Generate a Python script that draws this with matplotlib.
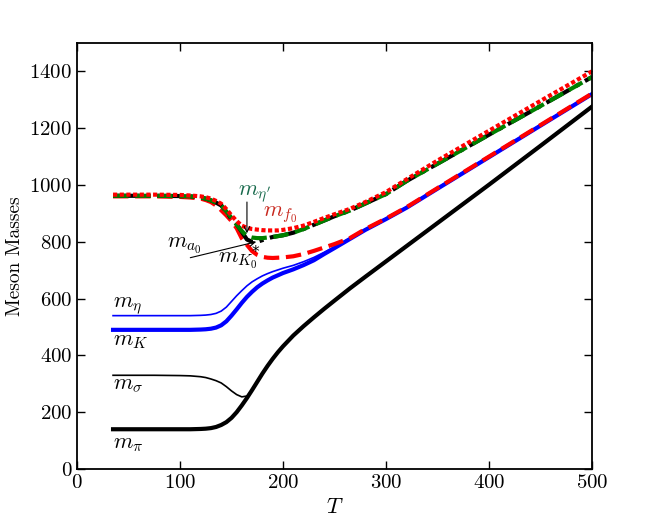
#!/usr/bin/env python3
# Meson masses vs temperature

import matplotlib
matplotlib.use('Agg')
import matplotlib.pyplot as plt

plt.rcParams['font.family'] = 'serif'
plt.rcParams['font.serif'] = ['cmr10', 'DejaVu Serif']
plt.rcParams['mathtext.fontset'] = 'cm'
plt.rcParams['axes.formatter.use_mathtext'] = True
plt.rcParams['axes.unicode_minus'] = False

# temperature grid (shared by all curves)
T = [35, 50, 75, 100, 110, 120, 125, 130, 135, 140, 145, 150, 155, 160, 165,
     170, 175, 180, 185, 190, 195, 200, 210, 220, 230, 240, 250, 265, 280,
     300, 320, 350, 400, 450, 500]

m_pi = [140, 140, 140, 140, 140, 141, 142, 144, 148, 155, 165, 180, 200, 224, 250,
        278, 307, 336, 363, 388, 411, 432, 470, 503, 534, 564, 593, 636, 677,
        731, 785, 866, 1001, 1138, 1276]
m_sigma = [330, 330, 330, 329, 328, 325, 322, 317, 311, 303, 290, 275, 262, 254, 257,
           279, 309, 338, 365, 390, 413, 434, 472, 505, 536, 566, 595, 638, 679,
           733, 787, 868, 1003, 1140, 1278]
m_K = [490, 490, 490, 490, 490, 491, 492, 494, 498, 506, 520, 540, 562, 585, 606,
       624, 640, 653, 664, 674, 682, 690, 703, 718, 735, 757, 778, 810, 842,
       880, 920, 987, 1098, 1209, 1320]
m_eta = [540, 540, 540, 540, 540, 541, 542, 544, 548, 556, 570, 590, 610, 628, 645,
         659, 670, 680, 688, 695, 701, 707, 717, 730, 745, 763, 782, 813, 845,
         883, 923, 990, 1101, 1212, 1323]
m_f0 = [966, 966, 966, 965, 963, 960, 957, 952, 944, 934, 915, 893, 873, 857, 849,
        845, 843, 841, 840, 840, 840, 842, 848, 857, 870, 884, 897, 916, 940,
        975, 1020, 1086, 1191, 1296, 1400]
m_etap = [962, 962, 962, 961, 960, 956, 952, 946, 938, 928, 907, 884, 860, 838, 820,
          815, 813, 813, 815, 817, 820, 823, 832, 845, 860, 875, 890, 910, 935,
          968, 1014, 1075, 1177, 1278, 1380]
m_a0 = [962, 962, 962, 961, 960, 956, 952, 946, 938, 928, 907, 880, 862, 835, 808,
        800, 800, 806, 812, 817, 820, 823, 832, 845, 860, 875, 890, 910, 935,
        968, 1014, 1075, 1177, 1278, 1380]
m_K0s = [960, 960, 960, 958, 956, 952, 947, 940, 928, 911, 893, 873, 848, 812, 789,
         767, 754, 747, 744, 743, 744, 745, 749, 757, 768, 780, 792, 813, 845,
         882, 922, 989, 1100, 1211, 1322]


def meson_plot():
    fig = plt.figure(figsize=(6.65, 5.32), dpi=100)
    ax = fig.add_axes([0.1158, 0.1184, 0.7744, 0.8008])

    ax.plot(T, m_pi, color='black', lw=3)
    ax.plot(T, m_sigma, color='black', lw=1.2)
    ax.plot(T, m_K, color='blue', lw=3)
    ax.plot(T, m_eta, color='blue', lw=1.2)
    ax.plot(T, m_K0s, color='red', lw=3, linestyle='--')
    ax.plot(T, m_a0, color='black', lw=3, linestyle='-.')
    ax.plot(T, m_etap, color='green', lw=3, linestyle='--')
    ax.plot(T, m_f0, color='red', lw=3, linestyle=(0, (1, 0.6)))

    fs = 16
    ax.text(35, 571, r'$m_\eta$', fontsize=fs)
    ax.text(35, 437, r'$m_K$', fontsize=fs)
    ax.text(35, 280, r'$m_\sigma$', fontsize=fs)
    ax.text(35, 74, r'$m_\pi$', fontsize=fs)
    ax.text(156, 966, r'$m_{\eta^\prime}$', fontsize=fs, color='#17694b')
    ax.text(180.6, 889, r'$m_{f_0}$', fontsize=fs, color='#c8281e')
    ax.text(87, 779, r'$m_{a_0}$', fontsize=fs)
    ax.text(137, 726, r'$m_{K_0}$', fontsize=fs)
    # the cm math fonts drop the asterisk, so it is set on its own
    ax.text(169.5, 762, '*', fontsize=11, family='DejaVu Sans',
            ha='left', va='center', zorder=5)

    arrow = dict(arrowstyle='->', color='black', lw=0.8, shrinkA=0, shrinkB=0)
    ax.annotate('', xy=(165, 830), xytext=(165, 940), arrowprops=arrow)
    ax.annotate('', xy=(174, 800), xytext=(110, 744), arrowprops=arrow)

    ax.set_xlim(0, 500)
    ax.set_ylim(0, 1500)
    ax.set_xticks([0, 100, 200, 300, 400, 500])
    ax.set_yticks([0, 200, 400, 600, 800, 1000, 1200, 1400])
    ax.tick_params(direction='in', top=True, right=True, length=6, width=1,
                   labelsize=15)
    for s in ax.spines.values():
        s.set_linewidth(1.3)

    ax.set_xlabel(r'$T$', fontsize=16)
    ax.set_ylabel('Meson Masses', fontsize=14)

    fig.savefig('out.png', dpi=100)
    plt.close(fig)


def main():
    meson_plot()


if __name__ == "__main__":
    main()
